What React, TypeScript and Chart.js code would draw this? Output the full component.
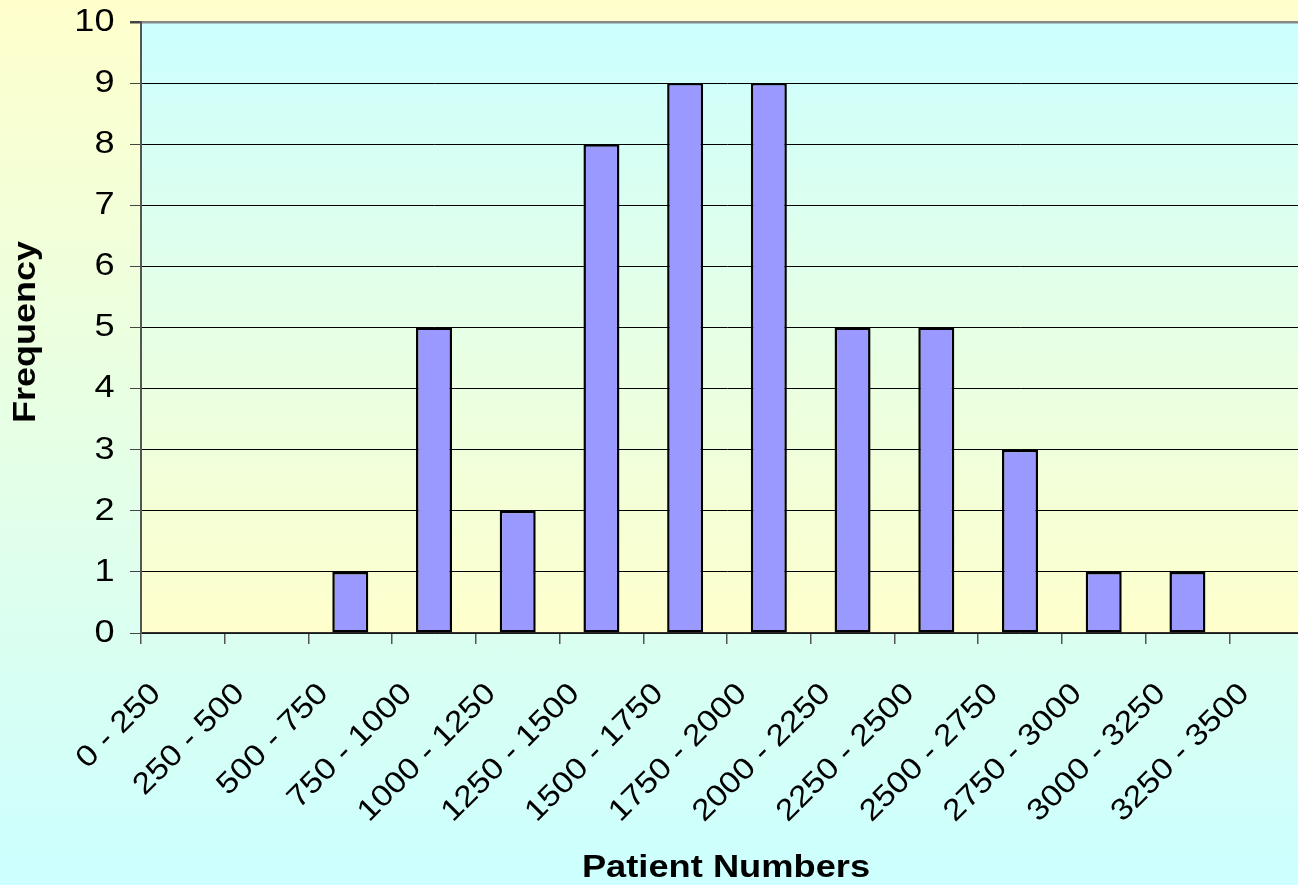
import React, { useEffect, useRef } from 'react';
import { Chart, registerables } from 'chart.js';

Chart.register(...registerables);

const categories = [
  '0 - 250', '250 - 500', '500 - 750', '750 - 1000', '1000 - 1250', '1250 - 1500',
  '1500 - 1750', '1750 - 2000', '2000 - 2250', '2250 - 2500', '2500 - 2750',
  '2750 - 3000', '3000 - 3250', '3250 - 3500',
];
const frequencies = [0, 0, 1, 5, 2, 8, 9, 9, 5, 5, 3, 1, 1, 0];
const yMin = 0;
const yMax = 10;
const yStep = 1;
const xTitle = 'Patient Numbers';
const yTitle = 'Frequency';

const W = 1313;
const H = 885;
const FONT = '"Liberation Sans", Arial, sans-serif';
const STRETCH = 1.13; // the reference's text is drawn wide

export default function App() {
  const ref = useRef<HTMLCanvasElement>(null);

  useEffect(() => {
    document.body.style.margin = '0';
    const plotBg = {
      id: 'plotBg',
      beforeDraw(chart: any) {
        const { ctx, chartArea: a } = chart;
        const g = ctx.createLinearGradient(0, a.top, 0, a.bottom);
        g.addColorStop(0, '#CCFFFF');
        g.addColorStop(1, '#FFFFCC');
        ctx.save();
        ctx.fillStyle = g;
        ctx.fillRect(a.left, a.top, a.right - a.left, a.bottom - a.top);
        ctx.restore();
      },
    };
    const texts = {
      id: 'texts',
      afterDraw(chart: any) {
        const { ctx } = chart;
        const xs = chart.scales.x;
        const ys = chart.scales.y;
        ctx.save();
        ctx.fillStyle = '#000';

        // y tick labels
        ctx.font = `32px ${FONT}`;
        ctx.textAlign = 'right';
        ctx.textBaseline = 'middle';
        ys.ticks.forEach((t: any) => {
          const y = ys.getPixelForValue(t.value);
          ctx.save();
          ctx.translate(ys.right - 26.5, y);
          ctx.scale(STRETCH, 1);
          ctx.fillText(String(t.label), 0, 0);
          ctx.restore();
        });

        // x tick labels, rotated 45 degrees
        ctx.font = `30px ${FONT}`;
        categories.forEach((label, i) => {
          const x = xs.getPixelForTick(i);
          ctx.save();
          ctx.translate(x - 26.5, xs.top + 56);
          ctx.rotate(-Math.PI / 4);
          ctx.scale(STRETCH, 1);
          ctx.fillText(label, 0, 0);
          ctx.restore();
        });

        // axis titles
        ctx.font = `bold 31px ${FONT}`;
        ctx.textAlign = 'center';
        ctx.save();
        ctx.translate(726, 868);
        ctx.scale(1.17, 1);
        ctx.fillText(xTitle, 0, 0);
        ctx.restore();

        ctx.save();
        ctx.translate(26.5, 332);
        ctx.rotate(-Math.PI / 2);
        ctx.scale(1.16, 1);
        ctx.fillText(yTitle, 0, 0);
        ctx.restore();

        ctx.restore();
      },
    };

    const chart = new Chart(ref.current as HTMLCanvasElement, {
      type: 'bar',
      data: {
        labels: categories,
        datasets: [
          {
            data: frequencies,
            backgroundColor: '#9999FF',
            borderColor: '#000000',
            borderWidth: 2.5,
            borderSkipped: false,
            categoryPercentage: 1,
            barPercentage: 0.43,
          },
        ],
      },
      options: {
        responsive: false,
        animation: false,
        devicePixelRatio: 1,
        layout: { padding: { top: 22, left: 0, right: 0, bottom: 0 } },
        plugins: { legend: { display: false }, tooltip: { enabled: false } },
        scales: {
          x: {
            offset: true,
            grid: {
              offset: true,
              drawOnChartArea: false,
              drawTicks: true,
              tickLength: 11,
              tickColor: '#555555',
              lineWidth: 1.5,
            },
            border: { color: '#333333', width: 1.5 },
            ticks: {
              autoSkip: false,
              maxRotation: 45,
              minRotation: 45,
              color: 'rgba(0,0,0,0)',
              font: { family: FONT, size: 30 },
            },
            afterFit: (s: any) => {
              s.height = 252;
              s.paddingLeft = 0;
              s.paddingRight = 0;
              s.paddingTop = 0;
              s.paddingBottom = 0;
            },
          },
          y: {
            min: yMin,
            max: yMax,
            ticks: {
              stepSize: yStep,
              padding: 16,
              color: 'rgba(0,0,0,0)',
              font: { family: FONT, size: 32 },
            },
            grid: {
              color: (c: any) => (c.tick && c.tick.value === yMax ? '#888888' : '#000000'),
              lineWidth: (c: any) => (c.tick && c.tick.value === yMax ? 2.5 : 1),
              tickColor: '#444444',
              tickLength: 11,
            },
            border: { color: '#555555', width: 2 },
            afterFit: (s: any) => {
              s.width = 141;
              s.paddingLeft = 0;
              s.paddingRight = 0;
              s.paddingTop = 0;
              s.paddingBottom = 0;
            },
          },
        },
      },
      plugins: [plotBg, texts],
    });
    return () => chart.destroy();
  }, []);

  return (
    <div
      style={{
        width: 1298,
        height: 885,
        overflow: 'hidden',
        background: 'linear-gradient(to bottom, #FFFFCC, #CCFFFF)',
      }}
    >
      <canvas ref={ref} width={W} height={H} style={{ display: 'block' }} />
    </div>
  );
}
